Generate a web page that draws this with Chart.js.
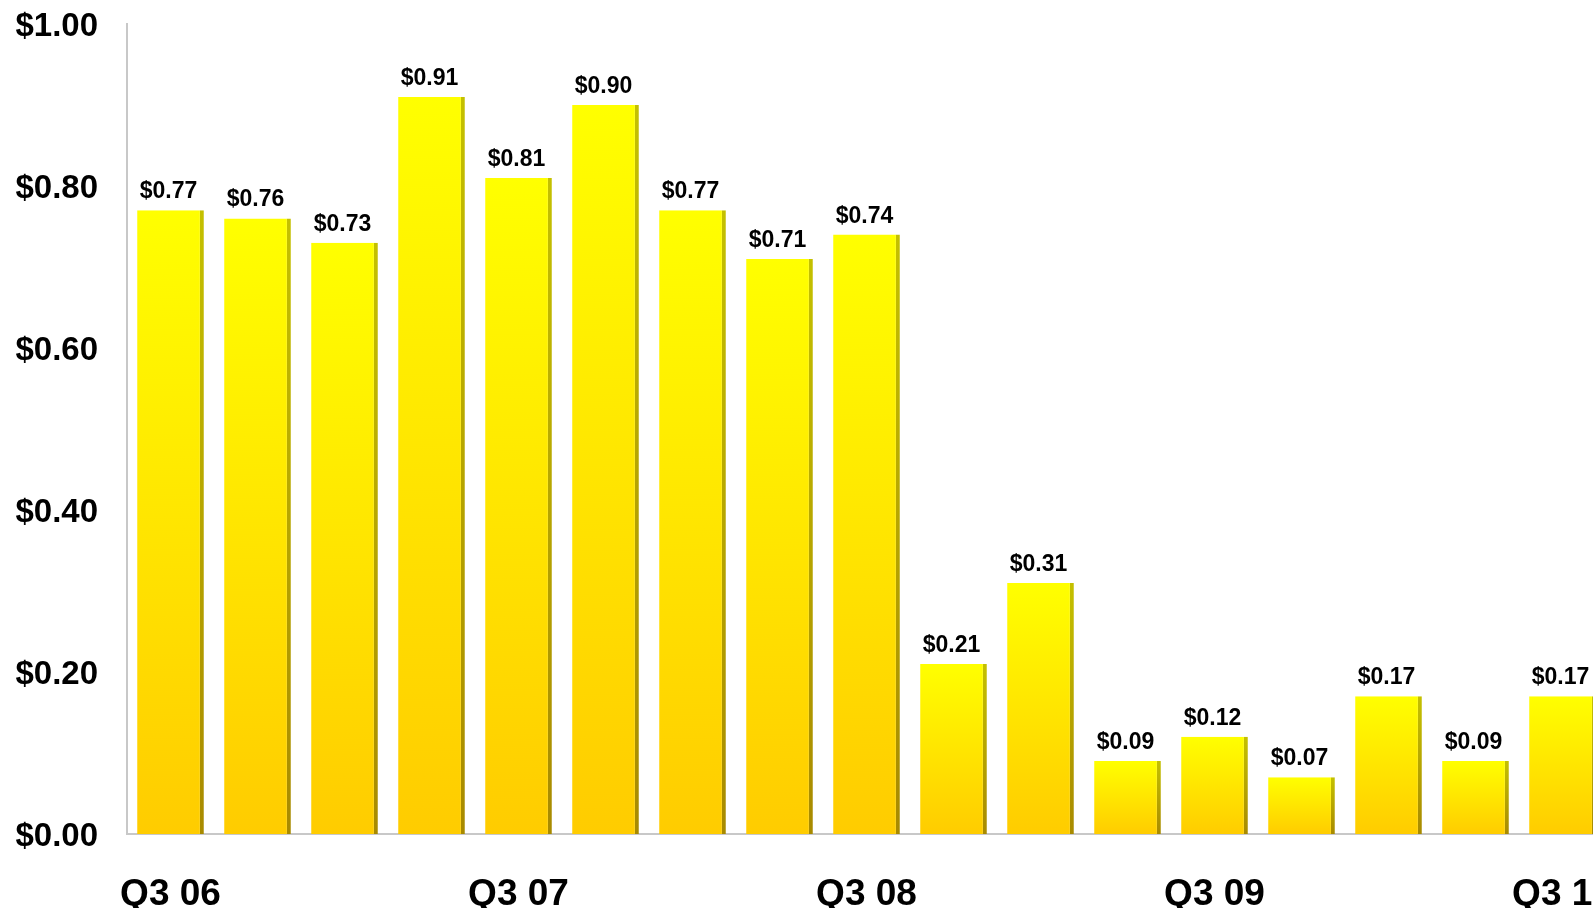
<!DOCTYPE html>
<html>
<head>
<meta charset="utf-8">
<title>Quarterly EPS</title>
<script src="https://cdn.jsdelivr.net/npm/chart.js@4.4.1/dist/chart.umd.min.js"></script>
<style>
  html, body { margin: 0; padding: 0; background: #fff; overflow: hidden; }
  #wrap { position: relative; width: 1606px; height: 908px; }
</style>
</head>
<body>
<div id="wrap"><canvas id="epsChart"></canvas></div>
<script>
const quarters = ['Q3 06', 'Q4 06', 'Q1 07', 'Q2 07', 'Q3 07', 'Q4 07', 'Q1 08', 'Q2 08',
                  'Q3 08', 'Q4 08', 'Q1 09', 'Q2 09', 'Q3 09', 'Q4 09', 'Q1 10', 'Q2 10', 'Q3 10'];
const eps = [0.77, 0.76, 0.73, 0.91, 0.81, 0.90, 0.77, 0.71, 0.74,
             0.21, 0.31, 0.09, 0.12, 0.07, 0.17, 0.09, 0.17];
const yTicks = [0, 0.2, 0.4, 0.6, 0.8, 1.0];

const FONT = '"Liberation Sans", Arial, sans-serif';

// each bar gets its own yellow-to-gold fill and a darker right side
const barShading = {
    id: 'barShading',
    beforeDatasetsDraw(chart) {
        const c = chart.ctx;
        chart.getDatasetMeta(0).data.forEach(bar => {
            const fill = c.createLinearGradient(0, bar.y, 0, bar.base);
            fill.addColorStop(0, '#ffff00');
            fill.addColorStop(1, '#ffcc00');
            const side = c.createLinearGradient(0, bar.y, 0, bar.base);
            side.addColorStop(0, '#c4c000');
            side.addColorStop(1, '#a88a00');
            // options can be shared between bars, so give each its own copy
            bar.options = Object.assign({}, bar.options, {
                backgroundColor: fill,
                borderColor: side
            });
        });
    }
};

const valueLabels = {
    id: 'valueLabels',
    afterDatasetsDraw(chart) {
        const c = chart.ctx;
        c.save();
        c.font = 'bold 23px ' + FONT;
        c.fillStyle = '#000';
        c.textAlign = 'center';
        c.textBaseline = 'alphabetic';
        chart.getDatasetMeta(0).data.forEach((bar, i) => {
            c.fillText('$' + eps[i].toFixed(2), bar.x - 2, bar.y - 12);
        });
        c.restore();
    }
};

new Chart(document.getElementById('epsChart'), {
    type: 'bar',
    data: {
        labels: quarters,
        datasets: [{
            data: eps,
            backgroundColor: '#ffdd00',
            borderColor: '#b09000',
            borderWidth: { top: 0, right: 4, bottom: 0, left: 0 },
            borderSkipped: false,
            barPercentage: 0.767,
            categoryPercentage: 1.0
        }]
    },
    options: {
        responsive: true,
        maintainAspectRatio: false,
        animation: false,
        layout: { padding: { top: 24, right: 0, left: 0, bottom: 0 } },
        plugins: {
            legend: { display: false },
            tooltip: { enabled: false }
        },
        scales: {
            x: {
                afterFit: axis => {
                    axis.height = 74;
                    axis.paddingLeft = 0;
                    axis.paddingRight = 0;
                },
                grid: { display: false, drawTicks: false },
                border: { display: true, color: '#c8c8c8', width: 2 },
                ticks: {
                    autoSkip: false,
                    maxRotation: 0,
                    padding: 39,
                    color: '#000',
                    font: { family: FONT, size: 37, weight: 'bold' },
                    callback: (v, i) => quarters[i].startsWith('Q3') ? quarters[i] : ''
                }
            },
            y: {
                min: 0,
                max: 1,
                afterBuildTicks: axis => { axis.ticks = yTicks.map(v => ({ value: v })); },
                afterFit: axis => {
                    axis.width = 127;
                    axis.paddingTop = 0;
                    axis.paddingBottom = 0;
                },
                grid: { display: false, drawTicks: false },
                border: { display: true, color: '#c8c8c8', width: 2 },
                ticks: {
                    padding: 29,
                    labelOffset: 3,
                    color: '#000',
                    font: { family: FONT, size: 33, weight: 'bold' },
                    callback: v => '$' + Number(v).toFixed(2)
                }
            }
        }
    },
    plugins: [barShading, valueLabels]
});
</script>
</body>
</html>
